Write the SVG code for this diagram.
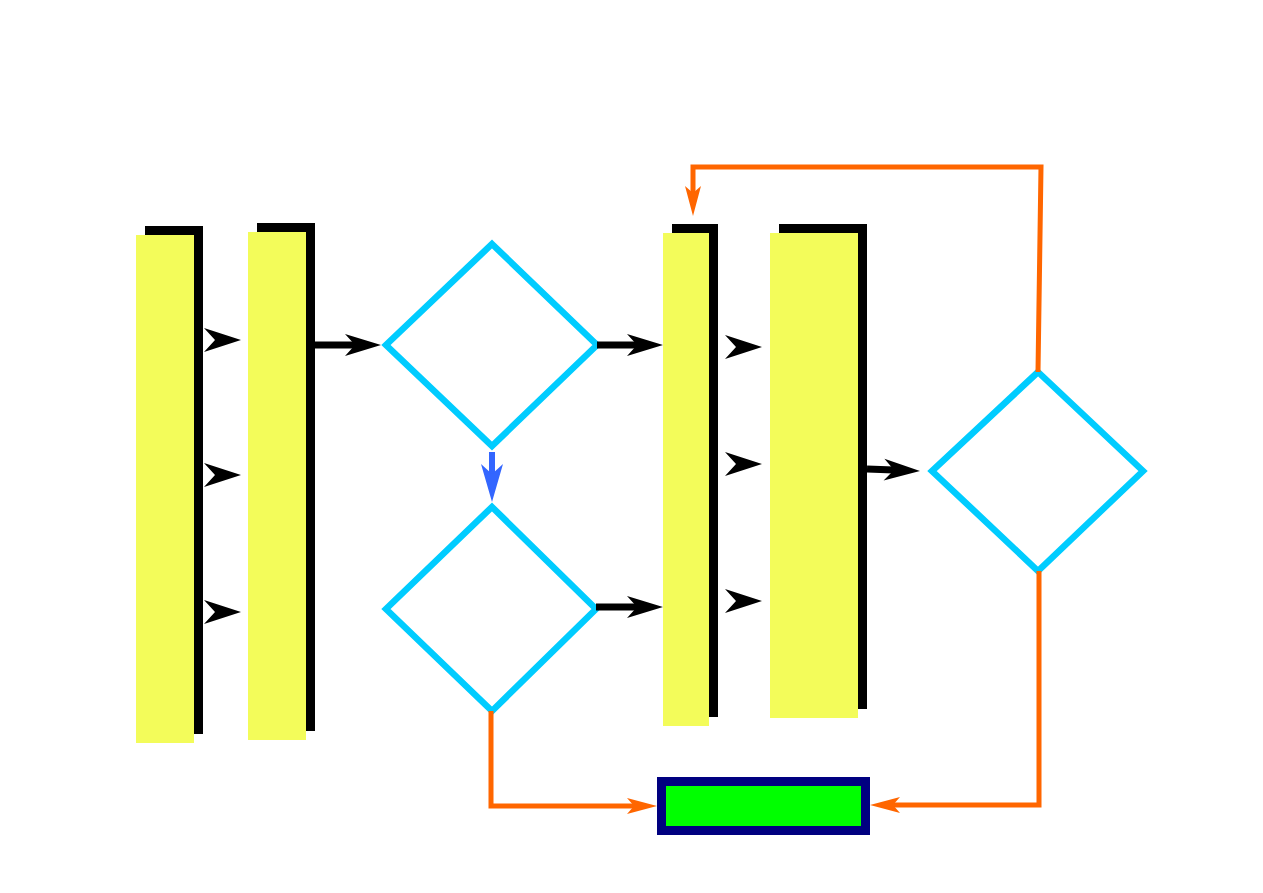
<svg xmlns="http://www.w3.org/2000/svg" width="1263" height="893" viewBox="0 0 1263 893">
<style>
.bar{fill:#F3FC5A}
.sh{fill:#000}
.dia{fill:none;stroke:#00CCFF;stroke-width:6.5;stroke-linejoin:miter}
.blk{fill:none;stroke:#000;stroke-width:7}
.org{fill:none;stroke:#FF6600;stroke-width:5}
.blu{fill:none;stroke:#3366FF;stroke-width:6}
.ah{fill:#000}
</style>
<defs>
<marker id="mb" markerUnits="userSpaceOnUse" markerWidth="40" markerHeight="26" refX="10" refY="11" orient="auto" overflow="visible">
<path d="M0,0 L36,11 L0,22 L10,11 z" fill="#000"/>
</marker>
<marker id="mo" markerUnits="userSpaceOnUse" markerWidth="32" markerHeight="18" refX="7" refY="8" orient="auto" overflow="visible">
<path d="M0,0 L30,8 L0,16 L7,8 z" fill="#FF6600"/>
</marker>
<marker id="mu" markerUnits="userSpaceOnUse" markerWidth="40" markerHeight="24" refX="10" refY="11" orient="auto" overflow="visible">
<path d="M0,0 L38,11 L0,22 L10,11 z" fill="#3366FF"/>
</marker>
<path id="tri" d="M0,-12 L37,0 L0,12 L11,0 z"/>
</defs>
<rect width="1263" height="893" fill="#fff"/>
<g id="bar1"><rect class="sh" x="145" y="226" width="58" height="508"/><rect class="bar" x="136" y="235" width="58" height="508"/></g>
<g id="bar2"><rect class="sh" x="257" y="223" width="58" height="508"/><rect class="bar" x="248" y="232" width="58" height="508"/></g>
<g id="bar3"><rect class="sh" x="672" y="224" width="46" height="493"/><rect class="bar" x="663" y="233" width="46" height="493"/></g>
<g id="bar4"><rect class="sh" x="779" y="224" width="88" height="485"/><rect class="bar" x="770" y="233" width="88" height="485"/></g>
<g id="d1"><path class="dia" d="M492,244 L597,345 L492,446 L386,345 Z"/></g>
<g id="d2"><path class="dia" d="M492,507 L596,609 L492,711 L386,609 Z"/></g>
<g id="d3"><path class="dia" d="M1038,372 L1143,471 L1038,571 L932,471 Z"/></g>
<g id="end"><rect x="661.5" y="781.5" width="204" height="49" fill="#00FF00" stroke="#000080" stroke-width="9"/></g>
<g id="connectors">
<use href="#tri" class="ah" x="204" y="340"/>
<use href="#tri" class="ah" x="204" y="475"/>
<use href="#tri" class="ah" x="204" y="612"/>
<use href="#tri" class="ah" x="725" y="347"/>
<use href="#tri" class="ah" x="725" y="464"/>
<use href="#tri" class="ah" x="725" y="601"/>
<path class="blk" d="M315,345 L355,345" marker-end="url(#mb)"/>
<path class="blk" d="M597,345 L637,345" marker-end="url(#mb)"/>
<path class="blk" d="M596,607 L637,607" marker-end="url(#mb)"/>
<path class="blk" d="M867,469 L894,470" marker-end="url(#mb)"/>
<path class="blu" d="M492,452 L492,474" marker-end="url(#mu)"/>
<path class="org" d="M491,711 L491,806 L634,806" marker-end="url(#mo)"/>
<path class="org" d="M1039,571 L1039,805 L893,805" marker-end="url(#mo)"/>
<path class="org" d="M1038,372 L1041,167 L693,167 L693,193" marker-end="url(#mo)"/>
</g>
</svg>
